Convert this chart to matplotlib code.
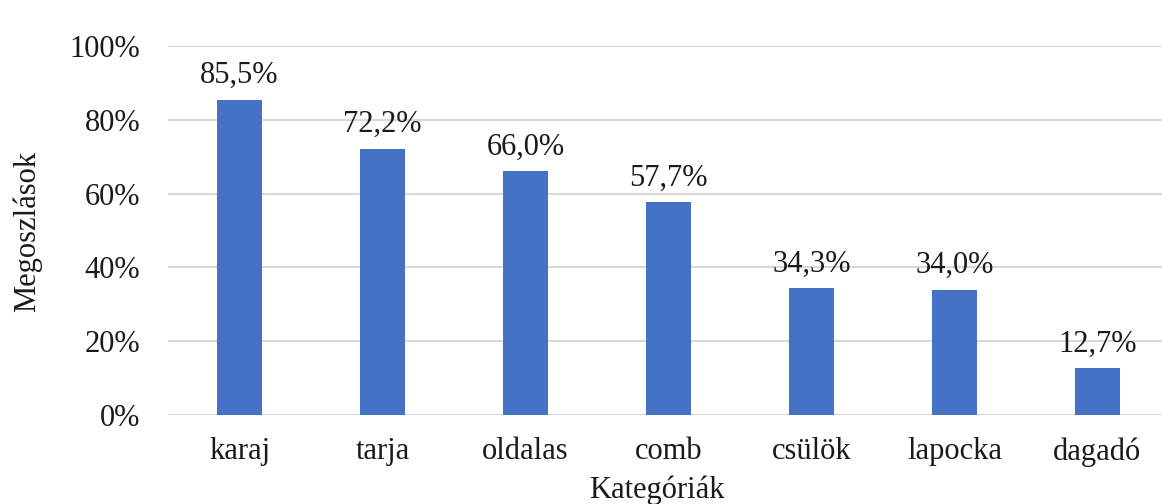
import matplotlib
matplotlib.use("Agg")
import matplotlib.pyplot as plt
from matplotlib.ticker import FuncFormatter

categories = ["karaj", "tarja", "oldalas", "comb", "csülök", "lapocka", "dagadó"]
values = [85.5, 72.2, 66.0, 57.7, 34.3, 34.0, 12.7]
value_labels = ["85,5%", "72,2%", "66,0%", "57,7%", "34,3%", "34,0%", "12,7%"]
yticks = [0, 20, 40, 60, 80, 100]

plt.rcParams['font.family'] = ['Liberation Serif', 'DejaVu Serif']
FS = 22

W, H = 1162, 504
fig = plt.figure(figsize=(W / 100, H / 100), dpi=100)
left, right = 168, 1162
top, bottom = 46, 415
ax = fig.add_axes([left / W, 1 - bottom / H, (right - left) / W, (bottom - top) / H])

x = list(range(len(categories)))
bars = ax.bar(x, values, width=0.31, color="#4472C4", zorder=3)
for xi, v, lab in zip(x, values, value_labels):
    ax.annotate(lab, (xi, v), xytext=(0, 7), textcoords="offset points",
                ha="center", va="bottom", fontsize=FS, color="#1a1a1a")

ax.set_xlim(-0.5, -0.5 + (right - left) / 143)
ax.set_ylim(0, 100)
ax.set_yticks(yticks)
ax.yaxis.set_major_formatter(FuncFormatter(lambda v, p: f"{int(v)}%"))
ax.set_xticks(x)
ax.set_xticklabels(categories)
ax.tick_params(axis="both", length=0, labelsize=FS, colors="#1a1a1a")
ax.tick_params(axis="y", pad=20)
ax.tick_params(axis="x", pad=16)
ax.grid(axis="y", color="#d9d9d9", linewidth=1.5, zorder=0)
for s in ax.spines.values():
    s.set_visible(False)

fig.text(657 / W, 1 - 490 / H, "Kategóriák", ha="center", va="center", fontsize=FS, color="#1a1a1a")
fig.text(27 / W, 1 - 231 / H, "Megoszlások", ha="center", va="center", rotation=90, fontsize=FS, color="#1a1a1a")

fig.savefig("out.png", dpi=100)
